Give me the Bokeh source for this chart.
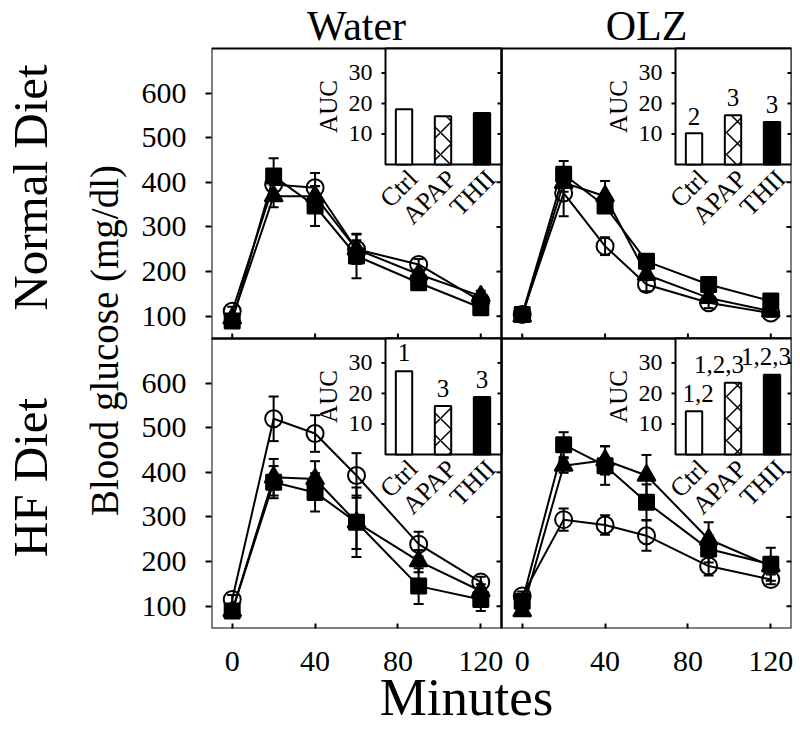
import math
from bokeh.plotting import figure
from bokeh.models import (Range1d, LinearAxis, FixedTicker, ColumnDataSource, Whisker, TeeHead)
from bokeh.embed import file_html
from bokeh.resources import INLINE
from bokeh.core.properties import value

# ---------------- data ----------------
minutes = [0, 20, 40, 60, 90, 120]
x_ticks = [0, 40, 80, 120]
y_ticks = [100, 200, 300, 400, 500, 600]
auc_ticks = [10, 20, 30]
groups = ["Ctrl", "APAP", "THII"]
col_titles = ["Water", "OLZ"]
row_titles = ["Normal Diet", "HF Diet"]
y_title = "Blood glucose (mg/dl)"
x_title = "Minutes"

nd_water_ctrl = [111, 395, 388, 250, 216, 134]
nd_water_ctrl_sem = [10, 15, 33, 20, 12, 12]
nd_water_apap = [95, 369, 369, 250, 194, 145]
nd_water_apap_sem = [8, 25, 22, 33, 10, 12]
nd_water_thii = [89, 414, 347, 235, 175, 119]
nd_water_thii_sem = [8, 40, 45, 50, 12, 12]

nd_olz_ctrl = [104, 376, 257, 171, 130, 107]
nd_olz_ctrl_sem = [8, 52, 20, 15, 12, 8]
nd_olz_apap = [100, 399, 369, 193, 141, 111]
nd_olz_apap_sem = [8, 20, 34, 12, 10, 8]
nd_olz_thii = [104, 418, 347, 223, 171, 134]
nd_olz_thii_sem = [8, 30, 15, 12, 12, 10]

hf_water_ctrl = [115, 520, 487, 393, 239, 154]
hf_water_ctrl_sem = [10, 50, 41, 50, 28, 12]
hf_water_apap = [89, 389, 385, 288, 201, 134]
hf_water_apap_sem = [8, 41, 40, 60, 25, 15]
hf_water_thii = [89, 378, 355, 288, 145, 115]
hf_water_thii_sem = [8, 36, 43, 78, 40, 26]

hf_olz_ctrl = [123, 294, 282, 258, 190, 160]
hf_olz_ctrl_sem = [10, 25, 22, 34, 21, 11]
hf_olz_apap = [89, 415, 427, 393, 250, 190]
hf_olz_apap_sem = [8, 16, 32, 46, 38, 15]
hf_olz_thii = [111, 462, 415, 333, 228, 194]
hf_olz_thii_sem = [8, 28, 43, 40, 30, 37]

nd_water_auc = [18.1, 15.8, 16.9]
nd_water_auc_sem = [1.1, 0.8, 1.0]
nd_water_sig = ["", "", ""]
nd_olz_auc = [10.2, 16.1, 13.9]
nd_olz_auc_sem = [0.7, 0.8, 0.9]
nd_olz_sig = ["2", "3", "3"]
hf_water_auc = [27.3, 15.9, 18.8]
hf_water_auc_sem = [1.3, 0.9, 1.0]
hf_water_sig = ["1", "3", "3"]
hf_olz_auc = [14.2, 23.5, 26.1]
hf_olz_auc_sem = [0.9, 1.1, 1.2]
hf_olz_sig = ["1,2", "1,2,3", "1,2,3"]

panels = {
    (0, 0): ([(nd_water_ctrl, nd_water_ctrl_sem), (nd_water_apap, nd_water_apap_sem), (nd_water_thii, nd_water_thii_sem)],
             (nd_water_auc, nd_water_auc_sem, nd_water_sig)),
    (0, 1): ([(nd_olz_ctrl, nd_olz_ctrl_sem), (nd_olz_apap, nd_olz_apap_sem), (nd_olz_thii, nd_olz_thii_sem)],
             (nd_olz_auc, nd_olz_auc_sem, nd_olz_sig)),
    (1, 0): ([(hf_water_ctrl, hf_water_ctrl_sem), (hf_water_apap, hf_water_apap_sem), (hf_water_thii, hf_water_thii_sem)],
             (hf_water_auc, hf_water_auc_sem, hf_water_sig)),
    (1, 1): ([(hf_olz_ctrl, hf_olz_ctrl_sem), (hf_olz_apap, hf_olz_apap_sem), (hf_olz_thii, hf_olz_thii_sem)],
             (hf_olz_auc, hf_olz_auc_sem, hf_olz_sig)),
}

# ---------------- layout constants ----------------
FONT = "Liberation Serif"
FRAME_W = 580
FRAME_H = 628
PANEL = 290
XMIN, XMAX = -10, 130
YMIN, YMAX = 50, 700
IXMIN, IXMAX = 0.525, 3.5
IYMIN, IYMAX = 0, 38
INSET_PX = 116
# small per-label horizontal nudges (px) for the significance marks
SIG_DX = {(1, 1): [4, -14, -6]}

def full(a, b, f0, f1):
    span = (b - a) / (f1 - f0)
    s = a - f0 * span
    return Range1d(s, s + span)

XSHIFT = XMAX - XMIN
YSHIFT = YMAX - YMIN
fw = PANEL / FRAME_W
fh = PANEL / FRAME_H
fiw = INSET_PX / FRAME_W
fih = INSET_PX / FRAME_H

p = figure(width=795, height=732, output_backend="svg", toolbar_location=None, title=None,
           x_range=full(XMIN, XMIN + 2 * XSHIFT, 0, 1),
           y_range=full(YMIN, YMIN + 2 * YSHIFT, 0, 2 * fh),
           min_border_left=211, min_border_right=4, min_border_top=0, min_border_bottom=104,
           x_axis_location=None, y_axis_location=None)
p.xgrid.visible = False
p.ygrid.visible = False
p.outline_line_color = None
p.background_fill_color = "white"
p.border_fill_color = "white"

p.extra_x_ranges = {
    "c0": full(XMIN, XMAX, 0, fw), "c1": full(XMIN, XMAX, fw, 2 * fw),
    "i0": full(IXMIN, IXMAX, fw - fiw, fw), "i1": full(IXMIN, IXMAX, 2 * fw - fiw, 2 * fw),
}
p.extra_y_ranges = {
    "r0": full(YMIN, YMAX, fh, 2 * fh), "r1": full(YMIN, YMAX, 0, fh),
    "j0": full(IYMIN, IYMAX, 2 * fh - fih, 2 * fh), "j1": full(IYMIN, IYMAX, fh - fih, fh),
}

dx = (XMAX - XMIN) / PANEL
dy = (YMAX - YMIN) / PANEL

def overrides(pairs):
    d = {}
    for k, t in pairs:
        d[k] = t
        d[str(k)] = t
    return d

def style(ax, size):
    ax.axis_line_color = None
    ax.major_tick_line_width = 2
    ax.minor_tick_line_color = None
    ax.major_label_text_font = FONT
    ax.major_label_text_font_size = size
    ax.major_label_text_color = "black"

# ---------------- axes ----------------
xt_all = x_ticks + [t + XSHIFT for t in x_ticks]
xa = LinearAxis(ticker=FixedTicker(ticks=xt_all),
                major_label_overrides=overrides([(t + XSHIFT, str(t)) for t in x_ticks]))
style(xa, "30px")
xa.major_tick_in = 5
xa.major_tick_out = 0
xa.major_label_standoff = 23
p.add_layout(xa, "below")

xpos_title = round(XMIN + (466 - 211) * dx, 1)
xb = LinearAxis(ticker=FixedTicker(ticks=[xpos_title]), major_label_overrides=overrides([(xpos_title, x_title)]))
style(xb, "53px")
xb.major_tick_line_color = None
xb.major_tick_in = 0
xb.major_tick_out = 0
xb.major_label_standoff = -6
p.add_layout(xb, "below")

yt_all = y_ticks + [v + YSHIFT for v in y_ticks]
ya = LinearAxis(ticker=FixedTicker(ticks=yt_all),
                major_label_overrides=overrides([(v + YSHIFT, str(v)) for v in y_ticks]))
style(ya, "30px")
ya.major_tick_in = 0
ya.major_tick_out = 6
ya.major_label_standoff = 19
p.add_layout(ya, "left")

ypos_title = round(YMAX - 2 * dy, 1)
yb = LinearAxis(ticker=FixedTicker(ticks=[ypos_title]), major_label_overrides=overrides([(ypos_title, y_title)]),
                major_label_orientation="parallel")
style(yb, "39px")
yb.major_tick_line_color = None
yb.major_tick_in = 0
yb.major_tick_out = 0
yb.major_label_standoff = 12
p.add_layout(yb, "left")

row_pos = [round((YMIN + YMAX) / 2 + YSHIFT + 6 * dy, 1), round((YMIN + YMAX) / 2 + 6 * dy, 1)]
yc = LinearAxis(ticker=FixedTicker(ticks=row_pos), major_label_overrides=overrides(list(zip(row_pos, row_titles))),
                major_label_orientation="parallel")
style(yc, "49px")
yc.major_tick_line_color = None
yc.major_tick_in = 0
yc.major_tick_out = 0
yc.major_label_standoff = 22
p.add_layout(yc, "left")

TICK = 5
idx = (IXMAX - IXMIN) / INSET_PX
markers = [("circle", 17, None), ("triangle", 18, "black"), ("square", 15, "black")]

for (ri, ci), (series, inset) in panels.items():
    xr, yr = f"c{ci}", f"r{ri}"
    # panel frame
    p.quad(left=[XMIN], right=[XMAX], bottom=[YMIN], top=[YMAX], x_range_name=xr, y_range_name=yr,
           fill_color=None, line_color="black", line_width=2)
    # inside ticks on the right edge, and on the bottom edge of the top row
    p.segment(x0=[XMAX] * len(y_ticks), x1=[XMAX - TICK * dx] * len(y_ticks), y0=y_ticks, y1=y_ticks,
              x_range_name=xr, y_range_name=yr, line_color="black", line_width=2)
    if ri == 0:
        p.segment(x0=x_ticks, x1=x_ticks, y0=[YMIN] * len(x_ticks), y1=[YMIN + TICK * dy] * len(x_ticks),
                  x_range_name=xr, y_range_name=yr, line_color="black", line_width=2)
    for vals, sem in series:
        p.line(minutes, vals, x_range_name=xr, y_range_name=yr, line_color="black", line_width=2)
    for vals, sem in series:
        src = ColumnDataSource(dict(x=minutes, up=[v + s for v, s in zip(vals, sem)],
                                    lo=[v - s for v, s in zip(vals, sem)]))
        p.add_layout(Whisker(source=src, base="x", upper="up", lower="lo", dimension="height",
                             x_range_name=xr, y_range_name=yr, line_color="black", line_width=2,
                             upper_head=TeeHead(size=10, line_width=2, line_color="black"),
                             lower_head=TeeHead(size=10, line_width=2, line_color="black")))
    for (vals, sem), (mk, sz, fc) in zip(series, markers):
        p.scatter(minutes, vals, marker=mk, size=sz, x_range_name=xr, y_range_name=yr,
                  line_color="black", line_width=2,
                  fill_color=fc if fc else "white", fill_alpha=1 if fc else 0)

    # ---------------- inset ----------------
    auc, auc_sem, sig = inset
    xi, yi = f"i{ci}", f"j{ri}"
    p.quad(left=[IXMIN], right=[IXMAX], bottom=[IYMIN], top=[IYMAX], x_range_name=xi, y_range_name=yi,
           fill_color="white", line_color="black", line_width=2)
    pos = [1, 2, 3]
    bsrc = ColumnDataSource(dict(x=pos, top=auc, fill=["white", "white", "black"], hatch=[" ", "x", " "]))
    p.vbar(x="x", top="top", bottom=0, width=0.42, source=bsrc, x_range_name=xi, y_range_name=yi,
           fill_color="fill", line_color="black", line_width=2, hatch_pattern="hatch",
           hatch_color="black", hatch_scale=22, hatch_weight=1.5)
    esrc = ColumnDataSource(dict(x=pos, up=[a + s for a, s in zip(auc, auc_sem)], lo=auc))
    p.add_layout(Whisker(source=esrc, base="x", upper="up", lower="lo", dimension="height",
                         x_range_name=xi, y_range_name=yi, line_color="black", line_width=2,
                         upper_head=TeeHead(size=9, line_width=2, line_color="black"), lower_head=None))
    p.segment(x0=[IXMIN] * 3, x1=[IXMIN - 4 * idx] * 3, y0=auc_ticks, y1=auc_ticks,
              x_range_name=xi, y_range_name=yi, line_color="black", line_width=2)
    p.segment(x0=[IXMAX] * 3, x1=[IXMAX - 4 * idx] * 3, y0=auc_ticks, y1=auc_ticks,
              x_range_name=xi, y_range_name=yi, line_color="black", line_width=2)
    p.text(x=[IXMIN] * 3, y=auc_ticks, text=[str(t) for t in auc_ticks], x_offset=-13,
           x_range_name=xi, y_range_name=yi, text_align="right", text_baseline="middle",
           text_font=value(FONT), text_font_size="24px", text_color="black")
    p.text(x=[IXMIN], y=[(IYMIN + IYMAX) / 2], text=["AUC"], x_offset=-57, angle=math.pi / 2,
           x_range_name=xi, y_range_name=yi, text_align="center", text_baseline="middle",
           text_font=value(FONT), text_font_size="25px", text_color="black")
    p.text(x=pos, y=[IYMIN] * 3, text=groups, angle=math.pi / 4, x_offset=9, y_offset=10,
           x_range_name=xi, y_range_name=yi, text_align="right", text_baseline="middle",
           text_font=value(FONT), text_font_size="26px", text_color="black")
    ssrc = ColumnDataSource(dict(x=pos, y=[a + s for a, s in zip(auc, auc_sem)], t=sig,
                                 dx=SIG_DX.get((ri, ci), [0, 0, 0])))
    p.text(x="x", y="y", text="t", x_offset="dx", y_offset=-15, source=ssrc, x_range_name=xi, y_range_name=yi,
           text_align="center", text_baseline="middle",
           text_font=value(FONT), text_font_size="25px", text_color="black")

# column headers (in the header band above the panels)
for ci, t in enumerate(col_titles):
    p.text(x=[(XMIN + XMAX) / 2], y=[YMAX + 23 * dy], text=[t], x_range_name=f"c{ci}", y_range_name="r0",
           text_align="center", text_baseline="middle",
           text_font=value(FONT), text_font_size="42px", text_color="black")

open("out.html", "w").write(file_html(p, INLINE))
